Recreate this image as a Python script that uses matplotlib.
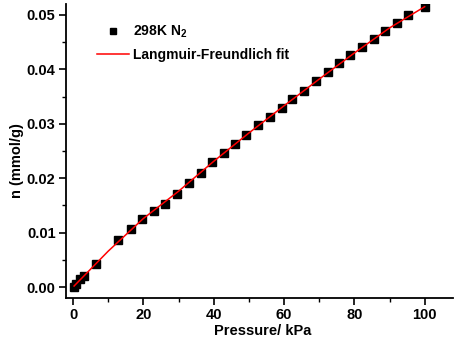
import matplotlib
matplotlib.use("Agg")
import matplotlib.pyplot as plt
from matplotlib.ticker import MultipleLocator

plt.rcParams['font.family'] = ['Liberation Sans', 'DejaVu Sans']
plt.rcParams['font.weight'] = 'bold'
plt.rcParams['mathtext.fontset'] = 'custom'
plt.rcParams['mathtext.bf'] = 'Liberation Sans:bold'
plt.rcParams['mathtext.rm'] = 'Liberation Sans:bold'

pressure = [0.3, 0.85, 2.1, 3.1, 6.5, 12.9, 16.4, 19.7, 23.0, 26.2, 29.5, 32.9, 36.3,
            39.4, 42.8, 46.0, 49.3, 52.7, 56.1, 59.3, 62.4, 65.8, 69.1, 72.4, 75.6,
            78.9, 82.3, 85.5, 88.8, 92.2, 95.4, 100.1]
uptake = [0.0000, 0.0005, 0.0015, 0.0021, 0.0042, 0.0086, 0.0106, 0.0125, 0.0140, 0.0152,
          0.0171, 0.0192, 0.0209, 0.0229, 0.0246, 0.0262, 0.0280, 0.0297, 0.0313, 0.0329,
          0.0346, 0.0361, 0.0378, 0.0395, 0.0411, 0.0426, 0.0441, 0.0456, 0.0471, 0.0486,
          0.0499, 0.0515]

fit_p = [0.3, 10, 20, 30, 40, 50, 60, 70, 80, 90, 100]
fit_n = [0.0002, 0.0066, 0.0126, 0.0176, 0.0231, 0.0283, 0.0333, 0.0382, 0.0430, 0.0476, 0.0515]

fig = plt.figure(figsize=(4.56, 3.47), dpi=100)
ax = fig.add_axes([0.1447, 0.1412, 0.8483, 0.8473])

ax.plot(pressure, uptake, 's', color='black', markersize=5.5, label='298K N$_\\mathrm{2}$', zorder=2)
ax.plot(fit_p, fit_n, '-', color='#ff0000', linewidth=1.1, label='Langmuir-Freundlich fit', zorder=3)

ax.set_xlim(-2, 108)
ax.set_ylim(-0.002, 0.052)
ax.xaxis.set_major_locator(MultipleLocator(20))
ax.xaxis.set_minor_locator(MultipleLocator(10))
ax.yaxis.set_major_locator(MultipleLocator(0.01))
ax.yaxis.set_minor_locator(MultipleLocator(0.005))
ax.yaxis.set_major_formatter(plt.FormatStrFormatter('%.2f'))

for s in ['top', 'right']:
    ax.spines[s].set_visible(False)
for s in ['left', 'bottom']:
    ax.spines[s].set_linewidth(1.3)

ax.tick_params(which='major', direction='out', length=5, width=1.2, labelsize=10.5, pad=2.5)
ax.tick_params(which='minor', direction='out', length=3, width=1.0)
for lab in ax.get_xticklabels() + ax.get_yticklabels():
    lab.set_fontweight('bold')

ax.set_xlabel('Pressure/ kPa', fontsize=10.5, fontweight='bold')
ax.set_ylabel('n (mmol/g)', fontsize=10.5, fontweight='bold')
ax.xaxis.set_label_coords(0.509, -0.090)
ax.yaxis.set_label_coords(-0.108, 0.466)

leg = ax.legend(loc='upper left', bbox_to_anchor=(0.047, 0.976), frameon=False,
                fontsize=10, handlelength=2.3, handletextpad=0.3, labelspacing=0.6,
                markerscale=0.85)
for t in leg.get_texts():
    t.set_fontweight('bold')

fig.savefig('out.png', dpi=100)
